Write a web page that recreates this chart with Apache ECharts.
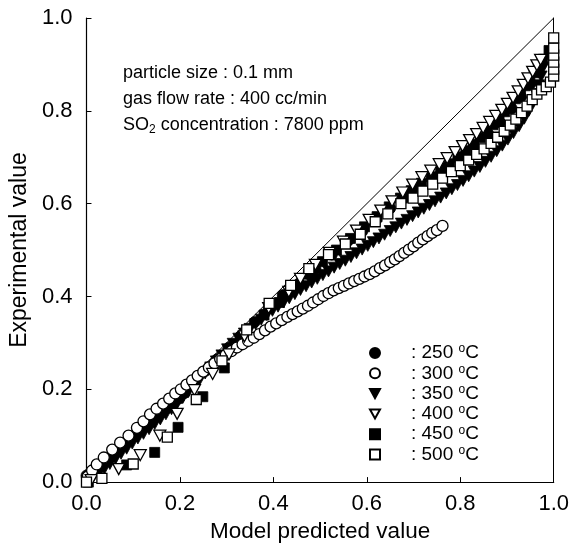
<!DOCTYPE html>
<html>
<head>
<meta charset="utf-8">
<script src="https://cdn.jsdelivr.net/npm/echarts@6/dist/echarts.min.js"></script>
<style>
html,body{margin:0;padding:0;background:#fff;}
#chart{width:572px;height:548px;}
</style>
</head>
<body>
<div id="chart"></div>
<script>
// ---- data ----
const xTicks = [0.0, 0.2, 0.4, 0.6, 0.8, 1.0];
const yTicks = [0.0, 0.2, 0.4, 0.6, 0.8, 1.0];
const seriesNames = ['250', '300', '350', '400', '450', '500'];
const diagonal = [[0, 0], [1, 1]];

const data250 = [[0.0,0.014],[0.008,0.02],[0.018,0.028],[0.03,0.038],[0.043,0.049],[0.056,0.06],[0.069,0.072],[0.082,0.084],[0.095,0.096],[0.108,0.107],[0.121,0.118],[0.134,0.129],[0.147,0.14],[0.16,0.15],[0.173,0.16],[0.186,0.17],[0.198,0.18],[0.21,0.192],[0.23,0.215],[0.255,0.24],[0.28,0.265],[0.305,0.29],[0.33,0.315],[0.36,0.345],[0.39,0.375],[0.42,0.403],[0.455,0.428],[0.49,0.46],[0.525,0.49],[0.56,0.52],[0.59,0.54],[0.62,0.565],[0.65,0.59],[0.68,0.612],[0.71,0.635],[0.74,0.655],[0.77,0.678],[0.8,0.7],[0.83,0.724],[0.86,0.75],[0.885,0.775],[0.91,0.805],[0.93,0.83],[0.95,0.858],[0.965,0.885],[0.975,0.905]];

const data300 = [[0.003,0.012],[0.012,0.025],[0.022,0.038],[0.037,0.053],[0.055,0.07],[0.072,0.085],[0.09,0.1],[0.108,0.117],[0.122,0.131],[0.136,0.146],[0.15,0.158],[0.164,0.169],[0.177,0.18],[0.19,0.191],[0.202,0.2],[0.214,0.21],[0.226,0.219],[0.238,0.229],[0.25,0.238],[0.262,0.247],[0.274,0.256],[0.286,0.265],[0.298,0.274],[0.31,0.282],[0.322,0.29],[0.334,0.297],[0.346,0.304],[0.358,0.311],[0.37,0.319],[0.382,0.327],[0.394,0.335],[0.406,0.342],[0.418,0.349],[0.43,0.356],[0.441,0.362],[0.452,0.368],[0.463,0.374],[0.474,0.38],[0.485,0.387],[0.496,0.394],[0.507,0.401],[0.518,0.407],[0.529,0.413],[0.54,0.418],[0.551,0.423],[0.562,0.428],[0.573,0.433],[0.584,0.438],[0.595,0.443],[0.606,0.448],[0.617,0.454],[0.628,0.461],[0.639,0.467],[0.65,0.474],[0.66,0.48],[0.67,0.487],[0.68,0.494],[0.69,0.501],[0.7,0.508],[0.71,0.516],[0.72,0.523],[0.73,0.53],[0.74,0.537],[0.75,0.543],[0.762,0.552]];

const data350 = [[0.004,0.004],[0.014,0.01],[0.026,0.018],[0.038,0.028],[0.05,0.039],[0.062,0.05],[0.074,0.061],[0.086,0.072],[0.098,0.083],[0.11,0.094],[0.122,0.104],[0.134,0.114],[0.146,0.125],[0.158,0.135],[0.17,0.146],[0.182,0.157],[0.194,0.169],[0.206,0.181],[0.218,0.194],[0.23,0.207],[0.242,0.22],[0.254,0.234],[0.266,0.247],[0.278,0.26],[0.29,0.273],[0.302,0.286],[0.314,0.298],[0.326,0.309],[0.338,0.32],[0.35,0.33],[0.362,0.34],[0.374,0.35],[0.386,0.36],[0.398,0.369],[0.41,0.378],[0.422,0.387],[0.434,0.396],[0.446,0.405],[0.458,0.414],[0.47,0.422],[0.482,0.43],[0.494,0.438],[0.506,0.446],[0.518,0.454],[0.53,0.462],[0.542,0.47],[0.554,0.477],[0.566,0.485],[0.578,0.493],[0.59,0.501],[0.602,0.509],[0.614,0.517],[0.626,0.525],[0.638,0.533],[0.65,0.541],[0.662,0.549],[0.674,0.557],[0.686,0.565],[0.698,0.573],[0.71,0.581],[0.722,0.589],[0.734,0.597],[0.746,0.605],[0.758,0.613],[0.77,0.622],[0.782,0.631],[0.794,0.64],[0.806,0.649],[0.818,0.659],[0.83,0.669],[0.842,0.679],[0.854,0.69],[0.866,0.701],[0.878,0.713],[0.89,0.725],[0.902,0.738],[0.914,0.752],[0.926,0.767],[0.937,0.783],[0.947,0.8],[0.955,0.818],[0.962,0.836],[0.968,0.855],[0.973,0.874],[0.977,0.893],[0.98,0.91]];

const data400 = [[0.01,0.004],[0.069,0.028],[0.115,0.058],[0.157,0.1],[0.194,0.147],[0.231,0.198],[0.27,0.233],[0.305,0.275],[0.338,0.314],[0.39,0.375],[0.433,0.41],[0.458,0.438],[0.49,0.468],[0.52,0.494],[0.55,0.518],[0.578,0.542],[0.605,0.565],[0.63,0.585],[0.654,0.605],[0.677,0.624],[0.698,0.641],[0.718,0.657],[0.737,0.671],[0.755,0.685],[0.772,0.698],[0.789,0.711],[0.805,0.724],[0.82,0.737],[0.835,0.75],[0.849,0.763],[0.863,0.776],[0.876,0.789],[0.889,0.802],[0.901,0.815],[0.913,0.828],[0.924,0.842],[0.935,0.856],[0.945,0.87],[0.955,0.884],[0.964,0.898],[0.972,0.91]];

const data450 = [[0.004,0.0],[0.086,0.037],[0.146,0.064],[0.196,0.118],[0.249,0.184],[0.295,0.246],[0.34,0.305],[0.38,0.36],[0.413,0.387],[0.445,0.42],[0.475,0.448],[0.505,0.475],[0.535,0.5],[0.565,0.525],[0.595,0.55],[0.622,0.572],[0.648,0.593],[0.672,0.612],[0.695,0.628],[0.717,0.644],[0.738,0.658],[0.758,0.672],[0.777,0.686],[0.795,0.7],[0.812,0.714],[0.828,0.728],[0.843,0.742],[0.857,0.756],[0.87,0.77],[0.883,0.784],[0.895,0.798],[0.907,0.812],[0.918,0.826],[0.929,0.84],[0.939,0.854],[0.949,0.868],[0.958,0.882],[0.967,0.896],[0.975,0.91],[0.99,0.93]];

const data500 = [[0.0,0.0],[0.033,0.008],[0.1,0.039],[0.173,0.097],[0.235,0.178],[0.29,0.261],[0.343,0.328],[0.391,0.385],[0.437,0.424],[0.476,0.46],[0.518,0.49],[0.554,0.513],[0.586,0.534],[0.618,0.561],[0.645,0.578],[0.673,0.6],[0.699,0.612],[0.72,0.627],[0.741,0.642],[0.762,0.655],[0.781,0.669],[0.8,0.682],[0.818,0.694],[0.835,0.706],[0.851,0.718],[0.866,0.73],[0.88,0.743],[0.894,0.756],[0.907,0.769],[0.919,0.782],[0.931,0.796],[0.943,0.81],[0.954,0.824],[0.964,0.836],[0.974,0.845],[0.984,0.852],[0.993,0.862],[1.0,0.875],[1.0,0.89],[1.0,0.905],[1.0,0.92],[1.0,0.935],[1.0,0.957]];

// ---- chart ----
const FONT = '"Liberation Sans", Arial, Helvetica, sans-serif';
const TRI = 'path://M0,0L10,0L5,9Z';
const chart = echarts.init(document.getElementById('chart'), null, {renderer: 'canvas'});

function sc(name, data, symbol, size, filled) {
  return {
    name: name, type: 'scatter', data: data, symbol: symbol, symbolSize: size,
    itemStyle: filled ? {color: '#000', borderColor: '#000', borderWidth: 0.8, opacity: 1}
                      : {color: '#fff', borderColor: '#000', borderWidth: 1.3, opacity: 1},
    emphasis: {disabled: true}
  };
}

const option = {
  animation: false,
  backgroundColor: '#fff',
  grid: {left: 86, top: 18, width: 471, height: 472, containLabel: false},
  xAxis: {
    type: 'value', min: 0, max: 1, interval: 0.2,
    name: 'Model predicted value', nameLocation: 'middle', nameGap: 36,
    nameTextStyle: {fontSize: 22.5, color: '#000', fontFamily: FONT},
    axisLine: {show: true, onZero: false, lineStyle: {color: '#000', width: 1.2}},
    axisTick: {show: true, inside: true, length: 5, lineStyle: {color: '#000'}},
    axisLabel: {fontSize: 22, color: '#000', fontFamily: FONT, margin: 11,
      formatter: v => { const i = Math.round(v / 0.2); return xTicks[i] !== undefined ? xTicks[i].toFixed(1) : ''; }},
    splitLine: {show: false}
  },
  yAxis: [{
    type: 'value', min: 0, max: 1, interval: 0.2,
    name: 'Experimental value', nameLocation: 'middle', nameGap: 50,
    nameTextStyle: {fontSize: 23, color: '#000', fontFamily: FONT},
    axisLine: {show: true, onZero: false, lineStyle: {color: '#000', width: 1.2}},
    axisTick: {show: true, inside: true, length: 5, lineStyle: {color: '#000'}},
    axisLabel: {fontSize: 22, color: '#000', fontFamily: FONT, margin: 14,
      formatter: v => { const i = Math.round(v / 0.2); return yTicks[i] !== undefined ? yTicks[i].toFixed(1) : ''; }},
    splitLine: {show: false}
  }, {
    type: 'value', min: 0, max: 1, position: 'right',
    axisLine: {show: true, onZero: false, lineStyle: {color: '#000', width: 1}},
    axisTick: {show: false}, axisLabel: {show: false}, splitLine: {show: false}
  }],
  legend: {
    orient: 'vertical', left: 369, top: 343, padding: 0,
    itemWidth: 10, itemHeight: 10, itemGap: 0.3,
    data: seriesNames,
    selectedMode: false,
    formatter: n => '{g|}{t|: ' + n + ' }{s|o}{t|C}',
    textStyle: {
      color: '#000', fontFamily: FONT, fontSize: 19, lineHeight: 18,
      rich: {
        g: {width: 26, lineHeight: 18},
        t: {fontSize: 19, lineHeight: 18, color: '#000', fontFamily: FONT},
        s: {fontSize: 12, lineHeight: 10, color: '#000', fontFamily: FONT, padding: [0, 0, 8, 0]}
      }
    }
  },
  graphic: [
    {type: 'text', left: 123, top: 64, style: {text: 'particle size : 0.1 mm', font: '18px ' + FONT, fill: '#000'}},
    {type: 'text', left: 123, top: 90, style: {text: 'gas flow rate : 400 cc/min', font: '18px ' + FONT, fill: '#000'}},
    {type: 'text', left: 123, top: 116, style: {
      text: '{a|SO}{b|2}{a| concentration : 7800 ppm}', fill: '#000',
      rich: {
        a: {fontSize: 18, fontFamily: FONT, fill: '#000', color: '#000'},
        b: {fontSize: 12, fontFamily: FONT, fill: '#000', color: '#000', padding: [9, 0, 0, 0]}
      }
    }}
  ],
  series: [
    {type: 'line', data: diagonal, symbol: 'none', lineStyle: {color: '#000', width: 1}, silent: true, z: 1},
    sc('350', data350, TRI, [12, 11], true),
    sc('250', data250, 'circle', 11, true),
    sc('450', data450, 'rect', 10, true),
    sc('300', data300, 'circle', 11, false),
    sc('400', data400, TRI, [12, 11], false),
    sc('500', data500, 'rect', 10, false)
  ]
};
chart.setOption(option);
</script>
</body>
</html>
